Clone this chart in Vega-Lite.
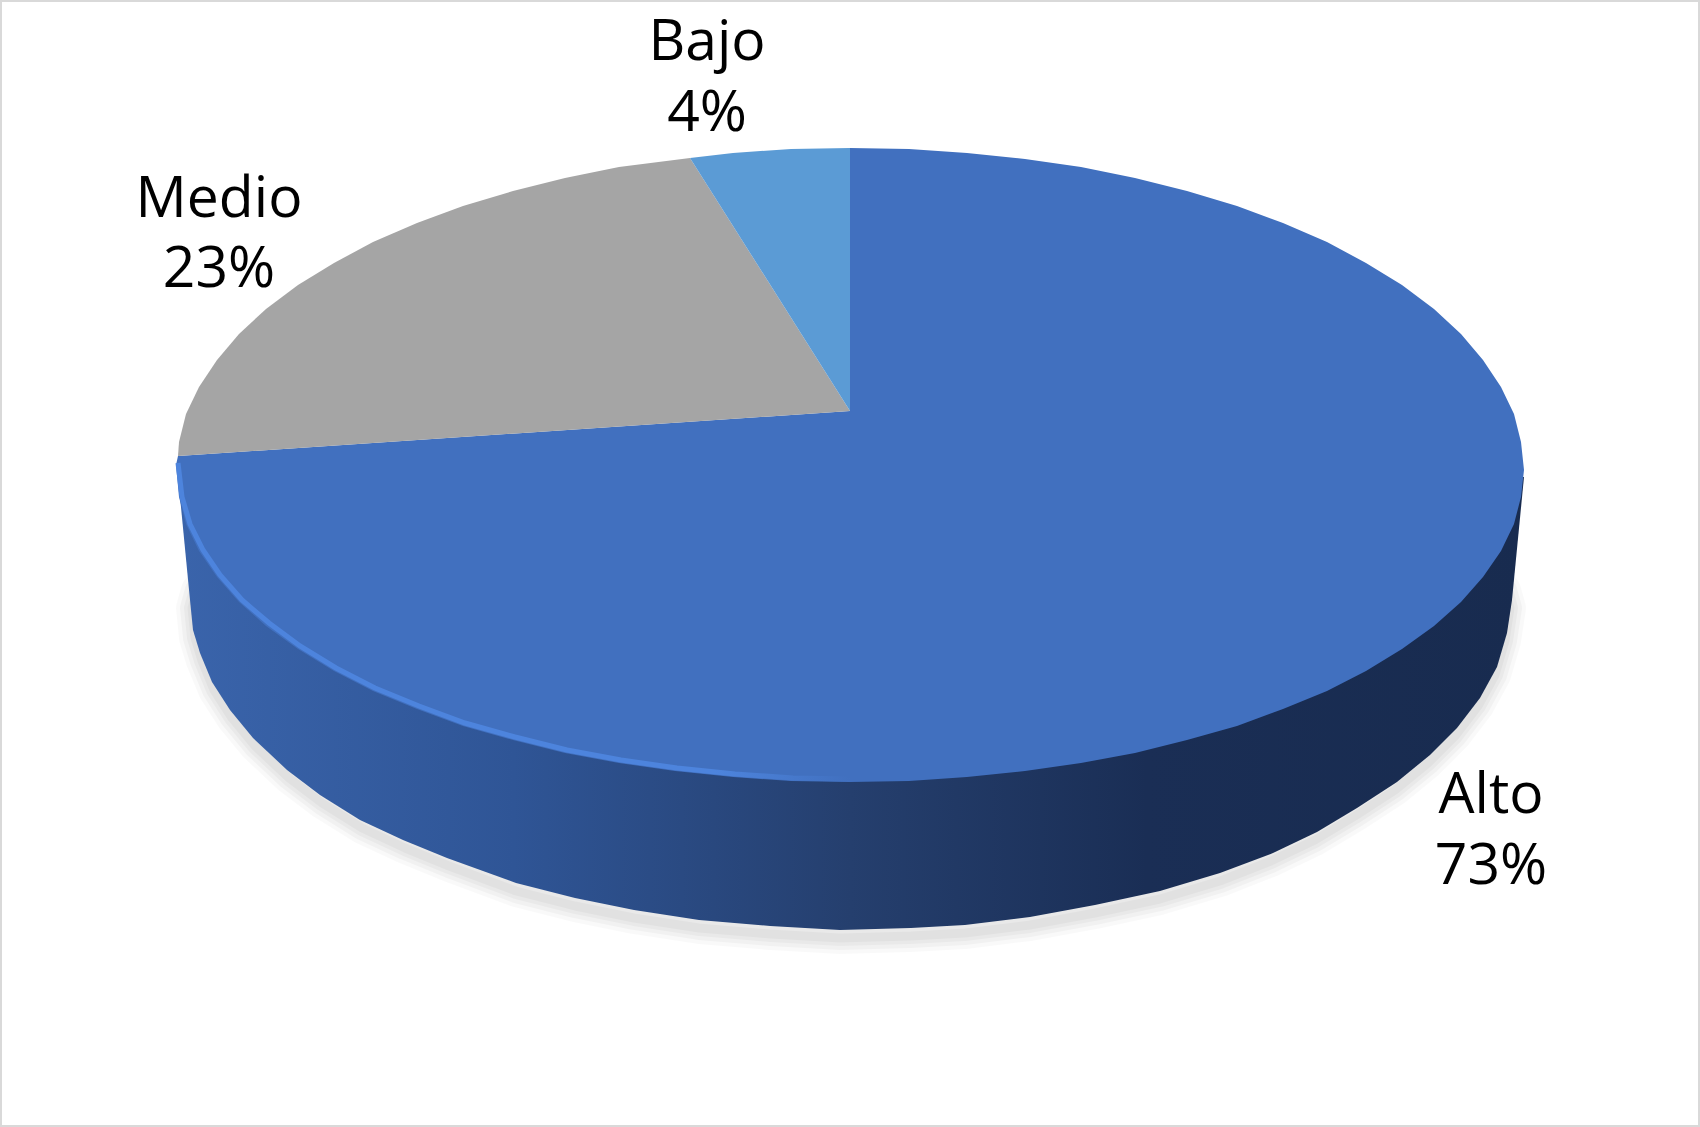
{"$schema":"https://vega.github.io/schema/vega-lite/v6.json","width":1700,"height":1127,"padding":0,"autosize":{"type":"fit","contains":"padding"},"background":"#ffffff","config":{"view":{"stroke":"#d9d9d9","strokeWidth":4}},
"datasets":{
"sombra":[{"i":0,"x":250,"y":530},{"i":1,"x":197,"y":590},{"i":2,"x":192,"y":608},{"i":3,"x":195,"y":638},{"i":4,"x":202,"y":661},{"i":5,"x":214,"y":690},{"i":6,"x":232,"y":718},{"i":7,"x":255,"y":746},{"i":8,"x":289,"y":778},{"i":9,"x":322,"y":803},{"i":10,"x":362,"y":828},{"i":11,"x":405,"y":848},{"i":12,"x":449,"y":866},{"i":13,"x":516,"y":891},{"i":14,"x":575,"y":906},{"i":15,"x":634,"y":918},{"i":16,"x":699,"y":928},{"i":17,"x":770,"y":934},{"i":18,"x":840,"y":938},{"i":19,"x":911,"y":936},{"i":20,"x":965,"y":933},{"i":21,"x":1030,"y":925},{"i":22,"x":1095,"y":913},{"i":23,"x":1160,"y":899},{"i":24,"x":1220,"y":881},{"i":25,"x":1271,"y":861},{"i":26,"x":1315,"y":840},{"i":27,"x":1355,"y":816},{"i":28,"x":1395,"y":790},{"i":29,"x":1428,"y":763},{"i":30,"x":1455,"y":736},{"i":31,"x":1478,"y":706},{"i":32,"x":1495,"y":675},{"i":33,"x":1505,"y":641},{"i":34,"x":1510,"y":608},{"i":35,"x":1505,"y":590},{"i":36,"x":1450,"y":530}],
"lado":[{"i":0,"x":177,"y":466},{"i":1,"x":190,"y":600},{"i":2,"x":193,"y":630},{"i":3,"x":200,"y":653},{"i":4,"x":212,"y":682},{"i":5,"x":230,"y":710},{"i":6,"x":253,"y":738},{"i":7,"x":287,"y":770},{"i":8,"x":320,"y":795},{"i":9,"x":360,"y":820},{"i":10,"x":403,"y":840},{"i":11,"x":447,"y":858},{"i":12,"x":516,"y":883},{"i":13,"x":575,"y":898},{"i":14,"x":634,"y":910},{"i":15,"x":699,"y":920},{"i":16,"x":770,"y":926},{"i":17,"x":840,"y":930},{"i":18,"x":911,"y":928},{"i":19,"x":965,"y":925},{"i":20,"x":1030,"y":917},{"i":21,"x":1095,"y":905},{"i":22,"x":1160,"y":891},{"i":23,"x":1220,"y":873},{"i":24,"x":1273,"y":853},{"i":25,"x":1317,"y":832},{"i":26,"x":1357,"y":808},{"i":27,"x":1397,"y":782},{"i":28,"x":1430,"y":755},{"i":29,"x":1457,"y":728},{"i":30,"x":1480,"y":698},{"i":31,"x":1497,"y":667},{"i":32,"x":1507,"y":633},{"i":33,"x":1512,"y":600},{"i":34,"x":1524,"y":477}],
"alto":[{"i":0,"x":850,"y":148},{"i":1,"x":909,"y":149},{"i":2,"x":967,"y":153},{"i":3,"x":1025,"y":159},{"i":4,"x":1081,"y":167},{"i":5,"x":1135,"y":178},{"i":6,"x":1187,"y":191},{"i":7,"x":1237,"y":206},{"i":8,"x":1283,"y":223},{"i":9,"x":1327,"y":242},{"i":10,"x":1366,"y":263},{"i":11,"x":1402,"y":285},{"i":12,"x":1434,"y":309},{"i":13,"x":1461,"y":334},{"i":14,"x":1483,"y":360},{"i":15,"x":1501,"y":387},{"i":16,"x":1514,"y":414},{"i":17,"x":1521,"y":442},{"i":18,"x":1524,"y":470},{"i":19,"x":1521,"y":497},{"i":20,"x":1514,"y":524},{"i":21,"x":1501,"y":551},{"i":22,"x":1483,"y":577},{"i":23,"x":1461,"y":602},{"i":24,"x":1434,"y":626},{"i":25,"x":1402,"y":649},{"i":26,"x":1366,"y":671},{"i":27,"x":1327,"y":691},{"i":28,"x":1283,"y":709},{"i":29,"x":1237,"y":726},{"i":30,"x":1187,"y":740},{"i":31,"x":1135,"y":753},{"i":32,"x":1081,"y":763},{"i":33,"x":1025,"y":771},{"i":34,"x":967,"y":777},{"i":35,"x":909,"y":781},{"i":36,"x":850,"y":782},{"i":37,"x":791,"y":781},{"i":38,"x":733,"y":777},{"i":39,"x":675,"y":771},{"i":40,"x":619,"y":763},{"i":41,"x":565,"y":753},{"i":42,"x":513,"y":740},{"i":43,"x":463,"y":726},{"i":44,"x":417,"y":709},{"i":45,"x":373,"y":691},{"i":46,"x":334,"y":671},{"i":47,"x":298,"y":649},{"i":48,"x":266,"y":626},{"i":49,"x":239,"y":602},{"i":50,"x":217,"y":577},{"i":51,"x":199,"y":551},{"i":52,"x":186,"y":524},{"i":53,"x":179,"y":497},{"i":54,"x":176,"y":465},{"i":55,"x":178,"y":456},{"i":56,"x":850,"y":411},{"i":57,"x":850,"y":148}],
"medio":[{"i":0,"x":850,"y":411},{"i":1,"x":178,"y":456},{"i":2,"x":179,"y":442},{"i":3,"x":186,"y":414},{"i":4,"x":199,"y":387},{"i":5,"x":217,"y":360},{"i":6,"x":239,"y":334},{"i":7,"x":266,"y":309},{"i":8,"x":298,"y":285},{"i":9,"x":334,"y":263},{"i":10,"x":373,"y":242},{"i":11,"x":417,"y":223},{"i":12,"x":463,"y":206},{"i":13,"x":513,"y":191},{"i":14,"x":565,"y":178},{"i":15,"x":619,"y":167},{"i":16,"x":690,"y":158}],
"bajo":[{"i":0,"x":850,"y":411},{"i":1,"x":690,"y":158},{"i":2,"x":733,"y":153},{"i":3,"x":791,"y":149},{"i":4,"x":850,"y":148}],
"brillo":[{"i":0,"x":178,"y":463},{"i":1,"x":182,"y":497},{"i":2,"x":190,"y":524},{"i":3,"x":203,"y":550},{"i":4,"x":220,"y":575},{"i":5,"x":242,"y":600},{"i":6,"x":269,"y":623},{"i":7,"x":300,"y":646},{"i":8,"x":336,"y":668},{"i":9,"x":375,"y":688},{"i":10,"x":419,"y":706},{"i":11,"x":465,"y":723},{"i":12,"x":515,"y":737},{"i":13,"x":567,"y":750},{"i":14,"x":621,"y":760},{"i":15,"x":677,"y":768},{"i":16,"x":735,"y":774},{"i":17,"x":793,"y":778},{"i":18,"x":850,"y":779}],
"textos":[{"x":707,"y":60,"texto":"Bajo"},{"x":707,"y":131,"texto":"4%"},{"x":219,"y":217,"texto":"Medio"},{"x":219,"y":287,"texto":"23%"},{"x":1491,"y":813,"texto":"Alto"},{"x":1491,"y":884,"texto":"73%"}]
},
"encoding":{"x":{"field":"x","type":"quantitative","scale":{"domain":[0,1700]},"axis":null},"y":{"field":"y","type":"quantitative","scale":{"domain":[0,1127],"reverse":true},"axis":null}},
"layer":[
{"data":{"name":"sombra"},"mark":{"type":"line","stroke":"#000000","strokeWidth":32,"opacity":0.025,"strokeJoin":"round"},"encoding":{"order":{"field":"i"}}},
{"data":{"name":"sombra"},"mark":{"type":"line","stroke":"#000000","strokeWidth":24,"opacity":0.03,"strokeJoin":"round"},"encoding":{"order":{"field":"i"}}},
{"data":{"name":"sombra"},"mark":{"type":"line","stroke":"#000000","strokeWidth":16,"opacity":0.03,"strokeJoin":"round"},"encoding":{"order":{"field":"i"}}},
{"data":{"name":"sombra"},"mark":{"type":"line","stroke":"#000000","strokeWidth":9,"opacity":0.03,"strokeJoin":"round"},"encoding":{"order":{"field":"i"}}},
{"data":{"name":"lado"},"mark":{"type":"line","strokeWidth":0,"fill":{"gradient":"linear","x1":0,"x2":1,"y1":0,"y2":0,"stops":[{"offset":0,"color":"#3a64ab"},{"offset":0.25,"color":"#2f5596"},{"offset":0.5,"color":"#253f6e"},{"offset":0.72,"color":"#1a2e55"},{"offset":1,"color":"#182b4f"}]}},"encoding":{"order":{"field":"i"}}},
{"data":{"name":"alto"},"mark":{"type":"line","strokeWidth":0,"fill":"#4170bf"},"encoding":{"order":{"field":"i"}}},
{"data":{"name":"medio"},"mark":{"type":"line","strokeWidth":0,"fill":"#a5a5a5"},"encoding":{"order":{"field":"i"}}},
{"data":{"name":"bajo"},"mark":{"type":"line","strokeWidth":0,"fill":"#5b9bd5"},"encoding":{"order":{"field":"i"}}},
{"data":{"name":"brillo"},"mark":{"type":"line","strokeWidth":5,"stroke":{"gradient":"linear","x1":0,"x2":1,"y1":0,"y2":0,"stops":[{"offset":0,"color":"#4d84dd"},{"offset":0.8,"color":"#4d84dd"},{"offset":1,"color":"#4170bf"}]}},"encoding":{"order":{"field":"i"}}},
{"data":{"name":"textos"},"mark":{"type":"text","font":"Open Sans","fontSize":57,"color":"#000000","align":"center","baseline":"alphabetic"},"encoding":{"text":{"field":"texto"}}}
]}
